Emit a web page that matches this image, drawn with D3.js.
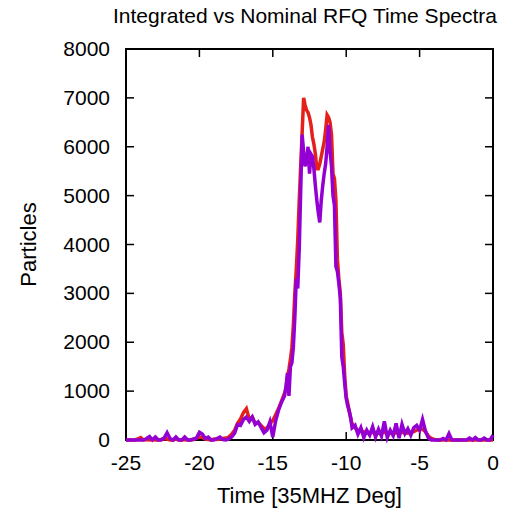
<!DOCTYPE html>
<html>
<head>
<meta charset="utf-8">
<script src="https://cdn.jsdelivr.net/npm/d3@7"></script>
<style>
  body { margin: 0; background: #fff; }
  text { font-family: 'Liberation Sans', Arial, Helvetica, sans-serif; fill: #000; }
</style>
</head>
<body>
<div id="chart-viz"><svg></svg></div>
<script>
// time bins [35MHz deg]
const times = [
  -25.0, -24.8, -24.6, -24.4, -24.2, -24.0, -23.8, -23.6, -23.4, -23.2,
  -23.0, -22.8, -22.6, -22.4, -22.2, -22.0, -21.8, -21.6, -21.4, -21.2,
  -21.0, -20.8, -20.6, -20.4, -20.2, -20.0, -19.8, -19.6, -19.4, -19.2,
  -19.0, -18.8, -18.6, -18.4, -18.2, -18.0, -17.8, -17.6, -17.4, -17.2,
  -17.0, -16.8, -16.6, -16.4, -16.2, -16.0, -15.8, -15.6, -15.4, -15.2,
  -15.0, -14.8, -14.6, -14.4, -14.2,
  -14.1, -14.0, -13.9, -13.8, -13.7, -13.6, -13.5, -13.4, -13.3, -13.2,
  -13.1, -13.0, -12.9, -12.8, -12.7, -12.6, -12.5, -12.4, -12.3, -12.2,
  -12.1, -12.0, -11.9, -11.8, -11.7, -11.6, -11.5, -11.4, -11.3, -11.2,
  -11.1, -11.0, -10.9, -10.8, -10.7, -10.6, -10.5, -10.4, -10.3, -10.2,
  -10.1, -10.0, -9.9, -9.8, -9.7, -9.6,
  -9.4, -9.2, -9.0, -8.8, -8.6, -8.4, -8.2, -8.0, -7.8, -7.6,
  -7.4, -7.2, -7.0, -6.8, -6.6, -6.4, -6.2, -6.0, -5.8, -5.6,
  -5.4, -5.2, -5.0, -4.8, -4.6, -4.4, -4.2, -4.0, -3.8, -3.6,
  -3.4, -3.2, -3.0, -2.8, -2.6, -2.4, -2.2, -2.0, -1.8, -1.6,
  -1.4, -1.2, -1.0, -0.8, -0.6, -0.4, -0.2, 0.0
]

// red series
const integrated = [
  0, 0, 0, 0, 20, 50, 0, 10, 0, 10,
  0, 0, 10, 30, 20, 0, 0, 20, 0, 0,
  10, 0, 0, 10, 40, 60, 50, 20, 10, 0,
  20, 10, 20, 30, 40, 60, 120, 200, 340, 430,
  560, 640, 420, 470, 340, 360, 300, 230, 240, 330,
  400, 520, 650, 800, 960,
  1050, 1300, 1450, 1650, 1900, 2350, 3000, 3500, 4100, 4900,
  5600, 6300, 7000, 6850, 6750, 6700, 6600, 6450, 6200, 6050,
  5850, 5550, 5550, 5650, 5800, 5950, 6100, 6350, 6650, 6600,
  6500, 6250, 5450, 5350, 4900, 3700, 3300, 3000, 2200, 1950,
  1300, 900, 760, 600, 450, 330,
  250, 200, 180, 170, 150, 140, 160, 150, 140, 150,
  160, 140, 150, 130, 150, 140, 160, 150, 140, 160,
  170, 200, 230, 220, 170, 80, 30, 10, 0, 0,
  0, 0, 0, 0, 0, 0, 0, 0, 0, 0,
  0, 0, 0, 0, 0, 0, 0, 0
]

// purple series
const nominal = [
  0, 0, 0, 0, 0, 0, 0, 30, 70, 0,
  60, 0, 0, 40, 150, 30, 0, 60, 0, 0,
  60, 0, 0, 20, 40, 160, 120, 30, 60, 0,
  0, 30, 60, 10, 0, 20, 60, 140, 320, 300,
  420, 470, 380, 470, 320, 370, 260, 150, 200, 370,
  60, 400, 620, 780, 900,
  1100, 1370, 900, 1500, 1580, 1900, 2500, 3300, 3100, 3900,
  5100, 6250, 5900, 5600, 5700, 6000, 5450, 5850, 5800, 5550,
  5200, 4900, 4650, 4450, 4900, 5200, 5450, 5650, 6000, 6450,
  5900, 5600, 5000, 4800, 3550, 3450, 3200, 2900, 1700, 1500,
  1150, 850, 700, 600, 470, 250,
  300, 120, 250, 50, 200, 100, 270, 60, 220, 80,
  380, 50, 200, 90, 340, 40, 320, 130, 230, 100,
  250, 300, 200, 420, 180, 40, 0, 0, 0, 0,
  30, 0, 130, 0, 0, 0, 0, 0, 0, 40,
  0, 50, 0, 0, 40, 0, 0, 100
]

const xTicks = [-25, -20, -15, -10, -5, 0]
const yTicks = [0, 1000, 2000, 3000, 4000, 5000, 6000, 7000, 8000]

const width = 511
const height = 512
const margin = { top: 49, right: 18, bottom: 72, left: 126 }

const svg = d3.select('#chart-viz').select('svg')
  .attr('width', width)
  .attr('height', height)

const x = d3.scaleLinear().domain([-25, 0]).range([margin.left, width - margin.right])
const y = d3.scaleLinear().domain([0, 8000]).range([height - margin.bottom, margin.top])

const tickLen = 8

// ticks on all four sides, pointing inward
const ticksG = svg.append('g').attr('stroke', '#000').attr('stroke-width', 1.5)
xTicks.forEach(t => {
  ticksG.append('line').attr('x1', x(t)).attr('x2', x(t))
    .attr('y1', y(0)).attr('y2', y(0) - tickLen)
  ticksG.append('line').attr('x1', x(t)).attr('x2', x(t))
    .attr('y1', y(8000)).attr('y2', y(8000) + tickLen)
})
yTicks.forEach(v => {
  ticksG.append('line').attr('x1', x(-25)).attr('x2', x(-25) + tickLen)
    .attr('y1', y(v)).attr('y2', y(v))
  ticksG.append('line').attr('x1', x(0)).attr('x2', x(0) - tickLen)
    .attr('y1', y(v)).attr('y2', y(v))
})

// border
svg.append('rect')
  .attr('x', x(-25))
  .attr('y', y(8000))
  .attr('width', x(0) - x(-25))
  .attr('height', y(0) - y(8000))
  .attr('fill', 'none')
  .attr('stroke', '#000')
  .attr('stroke-width', 2)

// tick labels
svg.append('g').selectAll('text')
  .data(xTicks)
  .join('text')
  .attr('x', d => x(d))
  .attr('y', y(0) + 30)
  .attr('text-anchor', 'middle')
  .style('font-size', '21px')
  .text(d => d)

svg.append('g').selectAll('text')
  .data(yTicks)
  .join('text')
  .attr('x', x(-25) - 16)
  .attr('y', d => y(d) + 7)
  .attr('text-anchor', 'end')
  .style('font-size', '21px')
  .text(d => d)

// axis titles
svg.append('text')
  .attr('x', (x(-25) + x(0)) / 2)
  .attr('y', 503)
  .attr('text-anchor', 'middle')
  .style('font-size', '22px')
  .text('Time [35MHZ Deg]')

svg.append('text')
  .attr('transform', 'translate(36,' + ((y(0) + y(8000)) / 2) + ') rotate(-90)')
  .attr('text-anchor', 'middle')
  .style('font-size', '22px')
  .text('Particles')

svg.append('text')
  .attr('x', 497)
  .attr('y', 23)
  .attr('text-anchor', 'end')
  .style('font-size', '21px')
  .text('Integrated vs Nominal RFQ Time Spectra')

// series lines
const line = d3.line()
  .x((d, i) => x(times[i]))
  .y(d => y(d))

svg.append('path')
  .datum(integrated)
  .attr('d', line)
  .attr('fill', 'none')
  .attr('stroke', '#e5201a')
  .attr('stroke-width', 3.5)

svg.append('path')
  .datum(nominal)
  .attr('d', line)
  .attr('fill', 'none')
  .attr('stroke', '#9400d3')
  .attr('stroke-width', 3.5)
</script>
</body>
</html>
